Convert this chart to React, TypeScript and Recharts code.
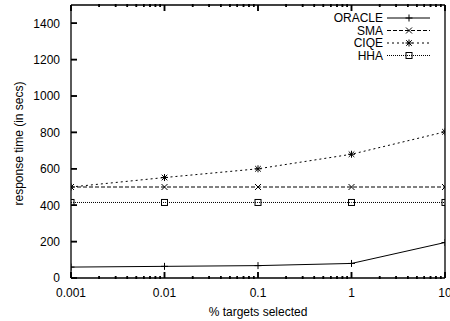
import { LineChart, Line, XAxis, YAxis } from 'recharts'

// % targets selected (log axis)
const pctSelected = [0.001, 0.01, 0.1, 1, 10]
// response times in secs
const oracleTimes = [60, 64, 68, 80, 195]
const smaTimes = [500, 500, 500, 500, 500]
const ciqeTimes = [500, 552, 600, 680, 803]
const hhaTimes = [415, 415, 415, 415, 415]

const xTicks = [0.001, 0.01, 0.1, 1, 10]
const xMinorTicks = [
  0.002, 0.003, 0.004, 0.005, 0.006, 0.007, 0.008, 0.009,
  0.02, 0.03, 0.04, 0.05, 0.06, 0.07, 0.08, 0.09,
  0.2, 0.3, 0.4, 0.5, 0.6, 0.7, 0.8, 0.9,
  2, 3, 4, 5, 6, 7, 8, 9,
]
const yTicks = [0, 200, 400, 600, 800, 1000, 1200, 1400]
const yMinorTicks = Array.from({ length: 75 }, (_, i) => i * 20).filter(v => v % 200 !== 0)

type MarkerKind = 'plus' | 'cross' | 'star' | 'square'

const series: { key: string; name: string; dash?: string; marker: MarkerKind }[] = [
  { key: 'oracle', name: 'ORACLE', marker: 'plus' },
  { key: 'sma', name: 'SMA', dash: '4 2', marker: 'cross' },
  { key: 'ciqe', name: 'CIQE', dash: '2 3', marker: 'star' },
  { key: 'hha', name: 'HHA', dash: '1 1', marker: 'square' },
]

const data = pctSelected.map((p, i) => ({
  pct: p,
  oracle: oracleTimes[i],
  sma: smaTimes[i],
  ciqe: ciqeTimes[i],
  hha: hhaTimes[i],
}))

const FONT = '"Liberation Sans", Arial, Helvetica, sans-serif'
const tickFont = { fill: '#000', fontSize: 12, fontFamily: FONT }
const AXIS = { stroke: '#000', strokeWidth: 1.3 }
const TICK = { stroke: '#000', strokeWidth: 1.5 }

function Marker({ kind, cx, cy }: { kind: MarkerKind; cx: number; cy: number }) {
  if (cx == null || cy == null) return null
  const r = 3.5
  const p = { stroke: '#000', strokeWidth: 1, fill: 'none' }
  if (kind === 'plus') {
    return (
      <g>
        <line x1={cx - r} y1={cy} x2={cx + r} y2={cy} {...p} />
        <line x1={cx} y1={cy - r} x2={cx} y2={cy + r} {...p} />
      </g>
    )
  }
  if (kind === 'cross') {
    const d = 3
    return (
      <g>
        <line x1={cx - d} y1={cy - d} x2={cx + d} y2={cy + d} {...p} />
        <line x1={cx - d} y1={cy + d} x2={cx + d} y2={cy - d} {...p} />
      </g>
    )
  }
  if (kind === 'star') {
    const d = 2.8
    return (
      <g>
        <line x1={cx - r} y1={cy} x2={cx + r} y2={cy} {...p} />
        <line x1={cx} y1={cy - r} x2={cx} y2={cy + r} {...p} />
        <line x1={cx - d} y1={cy - d} x2={cx + d} y2={cy + d} {...p} />
        <line x1={cx - d} y1={cy + d} x2={cx + d} y2={cy - d} {...p} />
      </g>
    )
  }
  return <rect x={cx - 3} y={cy - 3} width={6} height={6} {...p} />
}

// gnuplot-style inward ticks: major 6px, minor 3px
const tickMark = (side: 'b' | 't' | 'l' | 'r', len: number, withLabel: boolean) => (props: any) => {
  const x = Number(props.x)
  const y = Number(props.y)
  const v = props.payload?.value
  const end = {
    b: { x2: x, y2: y - len },
    t: { x2: x, y2: y + len },
    l: { x2: x + len, y2: y },
    r: { x2: x - len, y2: y },
  }[side]
  return (
    <g key={`${side}${len}-${v}`}>
      <line x1={x} y1={y} {...end} stroke="#000" strokeWidth={1.5} />
      {withLabel && side === 'b' && (
        <text x={x} y={y + 19} textAnchor="middle" style={tickFont}>{String(v)}</text>
      )}
      {withLabel && side === 'l' && (
        <text x={x - 11} y={y + 4.3} textAnchor="end" style={tickFont}>{String(v)}</text>
      )}
    </g>
  )
}

function LegendLabel(props: any) {
  const vb = props.viewBox || { x: 71, y: 4, width: 374, height: 1 }
  const right = vb.x + vb.width
  const top = vb.y + vb.height + 13
  return (
    <g>
      {series.map((s, i) => {
        const y = top + i * 12.5
        return (
          <g key={s.key}>
            <text x={right - 62} y={y} dy={4.3} textAnchor="end" style={tickFont}>{s.name}</text>
            <line x1={right - 58} y1={y} x2={right - 15} y2={y} stroke="#000" strokeWidth={1} strokeDasharray={s.dash} />
            <Marker kind={s.marker} cx={right - 36} cy={y} />
          </g>
        )
      })}
    </g>
  )
}

function YTitle(props: any) {
  const vb = props.viewBox || { y: 5, height: 273 }
  const cx = 23
  const cy = vb.y + vb.height / 2 + 2
  return (
    <text x={cx} y={cy} transform={`rotate(-90 ${cx} ${cy})`} textAnchor="middle" style={tickFont}>
      response time (in secs)
    </text>
  )
}

function XTitle(props: any) {
  const vb = props.viewBox || { x: 71, width: 374 }
  return (
    <text x={vb.x + vb.width / 2} y={316} textAnchor="middle" style={tickFont}>
      % targets selected
    </text>
  )
}

const logX = { dataKey: 'pct', type: 'number' as const, scale: 'log' as const, domain: [0.001, 10], allowDataOverflow: true, interval: 0 as const }
const linY = { type: 'number' as const, domain: [0, 1500], interval: 0 as const }

export default function App() {
  return (
    <div style={{ position: 'absolute', left: 0, top: 0, background: '#fff' }}>
      <LineChart width={450} height={321} data={data} margin={{ top: 3, right: 3, bottom: 41, left: 69 }}>
        <XAxis
          xAxisId="x"
          {...logX}
          ticks={xTicks}
          height={1}
          tickSize={-6}
          tickMargin={6}
          tick={tickMark('b', 6, true)}
          tickLine={TICK}
          axisLine={AXIS}
          label={<XTitle />}
        />
        <XAxis
          xAxisId="xMinor"
          {...logX}
          ticks={xMinorTicks}
          height={1}
          tickSize={-3}
          tickMargin={3}
          tick={tickMark('b', 3, false)}
          tickLine={TICK}
          axisLine={false}
        />
        <XAxis
          xAxisId="xTop"
          orientation="top"
          {...logX}
          ticks={xTicks}
          height={1}
          tickSize={-6}
          tickMargin={6}
          tick={tickMark('t', 6, false)}
          tickLine={TICK}
          axisLine={AXIS}
          label={<LegendLabel />}
        />
        <XAxis
          xAxisId="xTopMinor"
          orientation="top"
          {...logX}
          ticks={xMinorTicks}
          height={1}
          tickSize={-3}
          tickMargin={3}
          tick={tickMark('t', 3, false)}
          tickLine={TICK}
          axisLine={false}
        />
        <YAxis
          yAxisId="y"
          {...linY}
          ticks={yTicks}
          width={1}
          tickSize={-6}
          tickMargin={6}
          tick={tickMark('l', 6, true)}
          tickLine={TICK}
          axisLine={AXIS}
          label={<YTitle />}
        />
        <YAxis
          yAxisId="yMinor"
          {...linY}
          ticks={yMinorTicks}
          width={1}
          tickSize={-3}
          tickMargin={3}
          tick={tickMark('l', 3, false)}
          tickLine={TICK}
          axisLine={false}
        />
        <YAxis
          yAxisId="yRight"
          orientation="right"
          {...linY}
          ticks={yTicks}
          width={1}
          tickSize={-6}
          tickMargin={6}
          tick={tickMark('r', 6, false)}
          tickLine={TICK}
          axisLine={AXIS}
        />
        <YAxis
          yAxisId="yRightMinor"
          orientation="right"
          {...linY}
          ticks={yMinorTicks}
          width={1}
          tickSize={-3}
          tickMargin={3}
          tick={tickMark('r', 3, false)}
          tickLine={TICK}
          axisLine={false}
        />
        {series.map(s => (
          <Line
            key={s.key}
            xAxisId="x"
            yAxisId="y"
            dataKey={s.key}
            name={s.name}
            type="linear"
            stroke="#000"
            strokeWidth={1}
            strokeDasharray={s.dash}
            dot={(p: any) => <Marker key={`${s.key}-${p.index}`} kind={s.marker} cx={p.cx} cy={p.cy} />}
            activeDot={false}
            isAnimationActive={false}
          />
        ))}
      </LineChart>
    </div>
  )
}
